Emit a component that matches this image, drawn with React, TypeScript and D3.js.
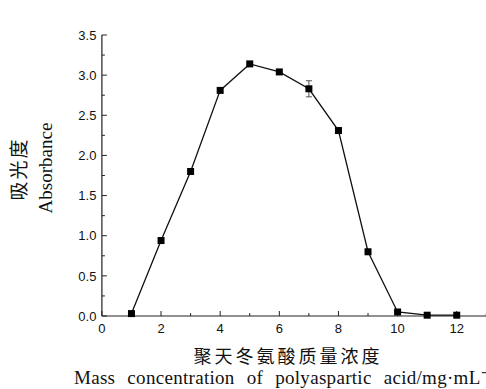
import React from "react";
import * as d3 from "d3";

const concentrations = [1, 2, 3, 4, 5, 6, 7, 8, 9, 10, 11, 12];
const absorbance = [0.03, 0.94, 1.8, 2.81, 3.14, 3.04, 2.83, 2.31, 0.8, 0.05, 0.01, 0.01];
const errors = [0, 0, 0, 0, 0, 0, 0.1, 0, 0, 0, 0, 0];
const xTicks = [0, 2, 4, 6, 8, 10, 12];
const xMinor = [1, 3, 5, 7, 9, 11, 13];
const yTicks = [0, 0.5, 1.0, 1.5, 2.0, 2.5, 3.0, 3.5];
const yMinor = [0.25, 0.75, 1.25, 1.75, 2.25, 2.75, 3.25];

const W = 486;
const H = 389;

export default function App() {
  const x = d3.scaleLinear().domain([0, 13]).range([101.9, 486.3]);
  const y = d3.scaleLinear().domain([0, 3.5]).range([316, 35]);
  const data = concentrations.map((c, i) => ({ c, v: absorbance[i], e: errors[i] }));
  const line = d3
    .line<{ c: number; v: number }>()
    .x((d) => x(d.c))
    .y((d) => y(d.v))
    .curve(d3.curveLinear);
  const axisColor = "#222";
  const tickFont = "'Liberation Sans', Arial, sans-serif";
  const serif = "'Liberation Serif', 'Times New Roman', serif";
  const cjk = "'Noto Sans CJK SC', sans-serif";
  const x0 = x(0);
  const y0 = y(0);
  return (
    <div style={{ position: "absolute", left: 0, top: 0 }}>
      <svg width={W} height={H} style={{ display: "block", background: "#fff" }}>
        <rect width={W} height={H} fill="#fff" />
        {/* axes */}
        <line x1={x0} x2={x0} y1={y(3.5)} y2={y0} stroke={axisColor} strokeWidth={1.2} />
        <line x1={x0} x2={W} y1={y0} y2={y0} stroke={axisColor} strokeWidth={1.2} />
        {yTicks.map((t) => (
          <g key={"yt" + t}>
            <line x1={x0} x2={x0 + 5} y1={y(t)} y2={y(t)} stroke={axisColor} strokeWidth={1} />
            <text
              x={x0 - 5.5}
              y={y(t)}
              dy="0.36em"
              textAnchor="end"
              fontFamily={tickFont}
              fontSize={13}
              fill="#111"
            >
              {t.toFixed(1)}
            </text>
          </g>
        ))}
        {yMinor.map((t) => (
          <line key={"ym" + t} x1={x0} x2={x0 + 3} y1={y(t)} y2={y(t)} stroke={axisColor} strokeWidth={1} />
        ))}
        {xTicks.map((t) => (
          <g key={"xt" + t}>
            <line x1={x(t)} x2={x(t)} y1={y0} y2={y0 - 5} stroke={axisColor} strokeWidth={1} />
            <text
              x={x(t)}
              y={y0 + 17}
              textAnchor="middle"
              fontFamily={tickFont}
              fontSize={13}
              fill="#111"
            >
              {t}
            </text>
          </g>
        ))}
        {xMinor.map((t) => (
          <line key={"xm" + t} x1={x(t)} x2={x(t)} y1={y0} y2={y0 - 3} stroke={axisColor} strokeWidth={1} />
        ))}
        {/* line */}
        <path d={line(data) || ""} fill="none" stroke="#111" strokeWidth={1.3} />
        {/* error bars */}
        {data
          .filter((d) => d.e > 0)
          .map((d) => (
            <g key={"e" + d.c} stroke="#555" strokeWidth={1}>
              <line x1={x(d.c)} x2={x(d.c)} y1={y(d.v - d.e)} y2={y(d.v + d.e)} />
              <line x1={x(d.c) - 3} x2={x(d.c) + 3} y1={y(d.v - d.e)} y2={y(d.v - d.e)} />
              <line x1={x(d.c) - 3} x2={x(d.c) + 3} y1={y(d.v + d.e)} y2={y(d.v + d.e)} />
            </g>
          ))}
        {/* markers */}
        {data.map((d) => (
          <rect key={"m" + d.c} x={x(d.c) - 3.5} y={y(d.v) - 3.5} width={7} height={7} fill="#000" />
        ))}
        {/* y label */}
        <text
          transform={`translate(26,169) rotate(-90)`}
          textAnchor="middle"
          fontFamily={cjk}
          fontSize={19}
          letterSpacing={2}
          fill="#111"
        >
          吸光度
        </text>
        <text
          transform={`translate(52,168) rotate(-90)`}
          textAnchor="middle"
          fontFamily={serif}
          fontSize={19}
          fill="#111"
        >
          Absorbance
        </text>
        {/* x label */}
        <text
          x={288}
          y={363}
          textAnchor="middle"
          fontFamily={cjk}
          fontSize={18}
          letterSpacing={3}
          fill="#111"
        >
          聚天冬氨酸质量浓度
        </text>
        <text
          x={74}
          y={384}
          fontFamily={serif}
          fontSize={19}
          letterSpacing={0.3}
          wordSpacing={7}
          fill="#111"
        >
          Mass concentration of polyaspartic acid/mg·mL⁻¹
        </text>
      </svg>
    </div>
  );
}
